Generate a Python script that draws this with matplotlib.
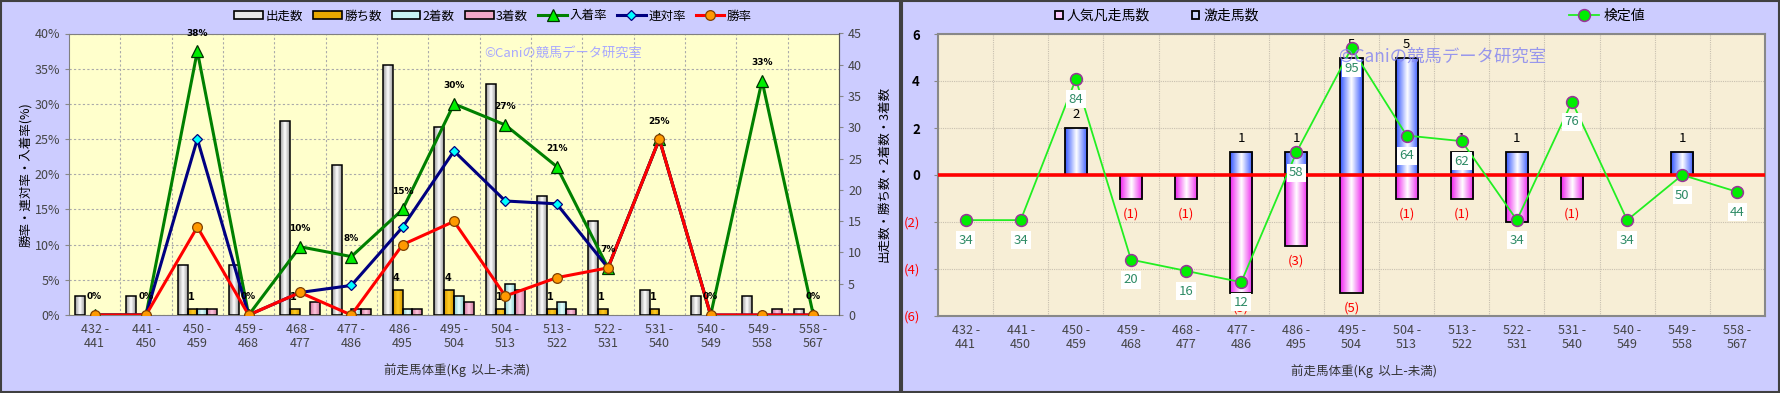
import numpy as np
import matplotlib.pyplot as plt
from matplotlib.colors import LinearSegmentedColormap
from matplotlib.patches import Rectangle
from matplotlib.lines import Line2D

plt.rcParams['font.family'] = ['Noto Sans CJK JP', 'DejaVu Sans']

weight_bins = ['432 -\n441', '441 -\n450', '450 -\n459', '459 -\n468', '468 -\n477',
               '477 -\n486', '486 -\n495', '495 -\n504', '504 -\n513', '513 -\n522',
               '522 -\n531', '531 -\n540', '540 -\n549', '549 -\n558', '558 -\n567']

# left chart - counts
starts = [3, 3, 8, 8, 31, 24, 40, 30, 37, 19, 15, 4, 3, 3, 1]
wins = [0, 0, 1, 0, 1, 0, 4, 4, 1, 1, 1, 1, 0, 0, 0]
seconds = [0, 0, 1, 0, 0, 1, 1, 3, 5, 2, 0, 0, 0, 0, 0]
thirds = [0, 0, 1, 0, 2, 1, 1, 2, 4, 1, 0, 0, 0, 1, 0]
# left chart - rates (%)
place_rate = [0, 0, 37.5, 0, 9.7, 8.3, 15.0, 30.0, 27.0, 21.1, 6.7, 25.0, 0, 33.3, 0]
quinella_rate = [0, 0, 25.0, 0, 3.2, 4.2, 12.5, 23.3, 16.2, 15.8, 6.7, 25.0, 0, 0, 0]
win_rate = [0, 0, 12.5, 0, 3.2, 0, 10.0, 13.3, 2.7, 5.3, 6.7, 25.0, 0, 0, 0]
place_labels = ['0%', '0%', '38%', '0%', '10%', '8%', '15%', '30%', '27%', '21%',
                '7%', '25%', '0%', '33%', '0%']

# right chart
hot_runs = [0, 0, 2, 0, 0, 1, 1, 5, 5, 1, 1, 0, 0, 1, 0]
flops = [0, 0, 0, 1, 1, 5, 3, 5, 1, 1, 2, 1, 0, 0, 0]
test_value = [34, 34, 84, 20, 16, 12, 58, 95, 64, 62, 34, 76, 34, 50, 44]

W, H = 1780, 393


def shade(ax, bars, edge, mid='white'):
    cmap = LinearSegmentedColormap.from_list('g', [edge, mid, edge])
    grad = np.linspace(0, 1, 100).reshape(1, -1)
    for b in bars:
        h = b.get_height()
        if h == 0:
            b.set_linewidth(0)
            continue
        x0, y0, w = b.get_x(), b.get_y(), b.get_width()
        im = ax.imshow(grad, cmap=cmap, aspect='auto', interpolation='bilinear',
                       extent=[x0, x0 + w, min(y0, y0 + h), max(y0, y0 + h)],
                       zorder=b.get_zorder() - 0.1)
        im.set_clip_path(b)


fig = plt.figure(figsize=(W / 100, H / 100), dpi=100, facecolor='#ccccff')
x = np.arange(len(weight_bins))

# ---------------- left chart ----------------
axL = fig.add_axes([69 / W, 78 / H, 770 / W, 281.5 / H])
axL.set_facecolor('#ffffcc')
axL.set_xlim(-0.5, 14.5)
axL.set_ylim(0, 40)
axL.set_yticks(range(0, 41, 5))
axL.set_yticklabels([f'{v}%' for v in range(0, 41, 5)], fontsize=9, color='#444444')
axL.set_xticks(x)
axL.set_xticklabels(weight_bins, fontsize=9, color='#444444', linespacing=1.05)
axL.set_xticks(np.arange(0.5, 14, 1), minor=True)
axL.tick_params(axis='x', which='both', length=0, pad=6)
axL.tick_params(axis='y', length=3, color='#888888')
axL.grid(True, axis='y', which='major', ls=(0, (2, 2)), color='#aaaaaa', lw=0.8)
axL.grid(True, axis='x', which='minor', ls=(0, (2, 2)), color='#aaaaaa', lw=0.8)
axL.set_axisbelow(True)
for s in axL.spines.values():
    s.set_color('#808080')
axL.set_ylabel('勝率・連対率・入着率(%)', fontsize=9)
axL.yaxis.set_label_coords(-0.048, 0.5)
axL.set_xlabel('前走馬体重(Kg  以上-未満)', fontsize=9, color='#333333')
axL.xaxis.set_label_coords(0.504, -0.172)

axB = axL.twinx()
bw = 0.19
b1 = axB.bar(x - 1.5 * bw, starts, bw, facecolor='none', edgecolor='black', lw=1.1, zorder=3)
b2 = axB.bar(x - 0.5 * bw, wins, bw, facecolor='none', edgecolor='black', lw=1.1, zorder=3)
b3 = axB.bar(x + 0.5 * bw, seconds, bw, facecolor='none', edgecolor='black', lw=1.1, zorder=3)
b4 = axB.bar(x + 1.5 * bw, thirds, bw, facecolor='none', edgecolor='black', lw=1.1, zorder=3)
shade(axB, b1, '#9a9a9a')
shade(axB, b2, '#d89a00', '#ffcc22')
shade(axB, b3, '#88cccc', '#e6ffff')
shade(axB, b4, '#cc7799', '#ffc6e0')
for i, v in enumerate(wins):
    if v > 0:
        axB.annotate(str(v), (i - 0.5 * bw, v), xytext=(-1, 8.5), textcoords='offset points',
                     ha='center', va='center', fontsize=7, fontweight='bold', family='DejaVu Sans')
axB.set_xlim(-0.5, 14.5)
axB.set_ylim(0, 45)
axB.set_yticks(range(0, 46, 5))
axB.tick_params(axis='y', labelsize=9, labelcolor='#444444', length=3, color='#888888')
axB.set_ylabel('出走数・勝ち数・2着数・3着数', fontsize=9)
axB.yaxis.set_label_coords(1.050, 0.5)
for s in axB.spines.values():
    s.set_visible(False)
axB.spines['right'].set_visible(True)
axB.spines['right'].set_color('#555555')

axR = axL.twinx()
axR.set_ylim(0, 40)
axR.set_xlim(-0.5, 14.5)
axR.yaxis.set_visible(False)
for s in axR.spines.values():
    s.set_visible(False)
l1, = axR.plot(x, place_rate, color='#008000', lw=2.2, marker='^', ms=8,
               mfc='#00ee00', mec='#003300', mew=0.9, label='入着率')
l2, = axR.plot(x, quinella_rate, color='#000080', lw=2.2, marker='D', ms=5.5,
               mfc='#00ffff', mec='#000080', mew=0.9, label='連対率')
l3, = axR.plot(x, win_rate, color='#ff0000', lw=2.2, marker='o', ms=7,
               mfc='#ff9900', mec='#804000', mew=0.9, label='勝率')
for i, lbl in enumerate(place_labels):
    axR.annotate(lbl, (i, place_rate[i]), xytext=(0, 13), textcoords='offset points',
                 ha='center', va='center', fontsize=6.5, fontweight='bold', family='DejaVu Sans')

fig.text(484 / W, 1 - 53 / H, '©Caniの競馬データ研究室', fontsize=9.5, color='#a8a8ff',
         va='center', ha='left')

hl = [Rectangle((0, 0), 1, 1, fc='#e8e8e8', ec='black', lw=1.2),
      Rectangle((0, 0), 1, 1, fc='#e8a800', ec='black', lw=1.2),
      Rectangle((0, 0), 1, 1, fc='#c8f4f4', ec='black', lw=1.2),
      Rectangle((0, 0), 1, 1, fc='#f0a8c8', ec='black', lw=1.2), l1, l2, l3]
fig.legend(hl, ['出走数', '勝ち数', '2着数', '3着数', '入着率', '連対率', '勝率'],
           loc='center', bbox_to_anchor=(493 / W, 1 - 16 / H), ncol=7, frameon=False,
           fontsize=9, handlelength=2.3, handleheight=0.55, columnspacing=0.8,
           handletextpad=0.2, borderaxespad=0)

# ---------------- right chart ----------------
axS = fig.add_axes([938 / W, 77 / H, 827 / W, 282 / H])
axS.set_facecolor('#f7eed6')
hb = axS.bar(x, hot_runs, 0.4, facecolor='none', edgecolor='black', lw=1.3, zorder=3)
fb = axS.bar(x, -np.array(flops), 0.4, facecolor='none', edgecolor='black', lw=1.3, zorder=3)
shade(axS, hb, '#3355ff')
shade(axS, fb, '#ee22ee')
axS.axhline(0, color='#ff0000', lw=2.6, zorder=4)
for i, v in enumerate(hot_runs):
    if v > 0:
        axS.annotate(str(v), (i, v), xytext=(0, 9.5), textcoords='offset points',
                     ha='center', va='center', fontsize=9.5, zorder=5)
for i, v in enumerate(flops):
    if v > 0:
        axS.annotate(f'({v})', (i, -v), xytext=(0, -11.5), textcoords='offset points',
                     ha='center', va='center', fontsize=9.5, color='#ff0000', zorder=5)
axS.set_xlim(-0.5, 14.5)
axS.set_ylim(-6, 6)
axS.set_yticks(range(-6, 7, 2))
axS.set_yticklabels(['(6)', '(4)', '(2)', '0', '2', '4', '6'], fontsize=9.5)
for t in axS.get_yticklabels():
    if t.get_text().startswith('('):
        t.set_color('#ff0000')
    else:
        t.set_color('black')
        t.set_fontweight('bold')
axS.set_xticks(x)
axS.set_xticklabels(weight_bins, fontsize=9, color='#444444', linespacing=1.05)
axS.set_xticks(np.arange(0.5, 14, 1), minor=True)
axS.tick_params(axis='x', which='both', length=0, pad=6)
axS.tick_params(axis='y', length=3, color='#888888', pad=10)
axS.grid(True, axis='y', which='major', ls=(0, (1, 1)), color='#c8c0b0', lw=0.8)
axS.grid(True, axis='x', which='minor', ls=(0, (1, 1)), color='#c8c0b0', lw=0.8)
axS.set_axisbelow(True)
for s in axS.spines.values():
    s.set_color('#888888')
    s.set_linewidth(1.5)
axS.set_xlabel('前走馬体重(Kg  以上-未満)', fontsize=9, color='#333333')
axS.xaxis.set_label_coords(0.515, -0.17)

axT = axS.twinx()
axT.set_ylim(0, 100)
axT.set_xlim(-0.5, 14.5)
axT.yaxis.set_visible(False)
for s in axT.spines.values():
    s.set_visible(False)
lt, = axT.plot(x, test_value, color='#22ee22', lw=1.3, marker='o', ms=8.5,
               mfc='#00ee00', mec='#993399', mew=1.1, zorder=5)
for i, v in enumerate(test_value):
    axT.annotate(str(v), (i, v), xytext=(0, -14.5), textcoords='offset points',
                 ha='center', va='center', fontsize=9.5, color='#2e8b66', zorder=6,
                 bbox=dict(facecolor='white', edgecolor='none', pad=1.8))

fig.text(1339 / W, 1 - 57 / H, '©Caniの競馬データ研究室', fontsize=12.5, color='#8888f0',
         alpha=0.85, va='center', ha='left', zorder=10)

hr = [Rectangle((0, 0), 1, 1, fc='#ffccff', ec='black', lw=1.3),
      Rectangle((0, 0), 1, 1, fc='#ccd6ff', ec='black', lw=1.3)]
fig.legend(hr, ['人気凡走馬数', '激走馬数'], loc='center',
           bbox_to_anchor=(1157 / W, 1 - 16 / H), ncol=2, frameon=False, fontsize=10,
           handlelength=0.55, handleheight=0.55, columnspacing=3.0, handletextpad=0.3,
           borderaxespad=0)
fig.legend([lt], ['検定値'], loc='center', bbox_to_anchor=(1607 / W, 1 - 16 / H),
           frameon=False, fontsize=10, handlelength=2.2, handletextpad=0.3, borderaxespad=0)

# panel frames
fig.add_artist(Rectangle((1 / W, 1 / H), 899 / W, 391 / H, transform=fig.transFigure,
                         fill=False, ec='#404040', lw=1.5))
fig.add_artist(Rectangle((902 / W, 1 / H), 877 / W, 391 / H, transform=fig.transFigure,
                         fill=False, ec='#404040', lw=1.5))

fig.savefig('out.png', dpi=100, facecolor=fig.get_facecolor())
